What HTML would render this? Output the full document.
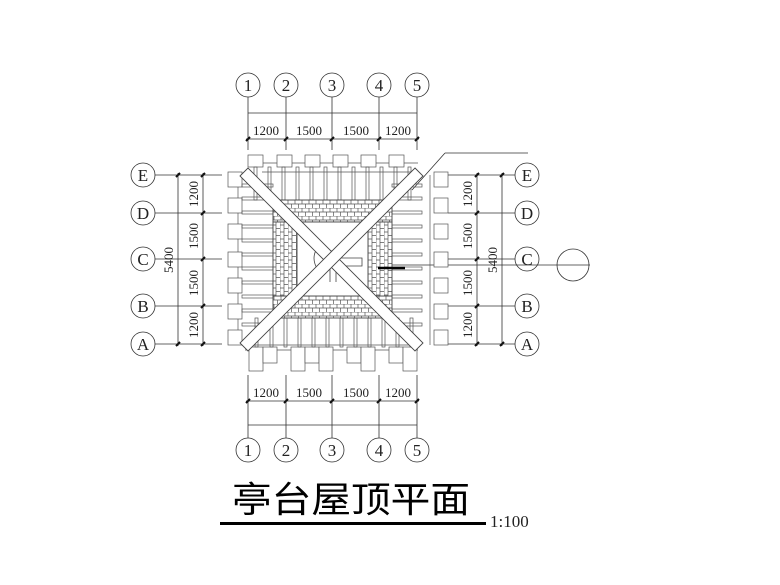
<!DOCTYPE html>
<html><head><meta charset="utf-8"><style>
html,body{margin:0;padding:0;background:#fff;}
svg{display:block}
text{font-family:"Liberation Serif","Noto Serif CJK SC",serif;fill:#222}
</style></head><body>
<svg width="780" height="585" viewBox="0 0 780 585" xmlns="http://www.w3.org/2000/svg">
<defs>
<pattern id="brickH" width="7" height="8" patternUnits="userSpaceOnUse">
<rect width="7" height="8" fill="#fff"/>
<path d="M0 0H7M0 4H7M1 0V4M4.5 4V8" stroke="#555" stroke-width="0.7" fill="none"/>
</pattern>
<pattern id="brickV" width="8" height="7" patternUnits="userSpaceOnUse">
<rect width="8" height="7" fill="#fff"/>
<path d="M0 0V7M4 0V7M0 1H4M4 4.5H8" stroke="#555" stroke-width="0.7" fill="none"/>
</pattern>
</defs>
<g stroke="#333" stroke-width="0.8" fill="none">
<g>
<circle cx="248" cy="85" r="12"/><circle cx="286" cy="85" r="12"/><circle cx="332" cy="85" r="12"/><circle cx="379" cy="85" r="12"/><circle cx="417" cy="85" r="12"/>
<path d="M248 97V150M286 97V150M332 97V150M379 97V150M417 97V150"/>
<path d="M248 113H417M246 139H419"/>
</g>
<g>
<circle cx="248" cy="450" r="12"/><circle cx="286" cy="450" r="12"/><circle cx="332" cy="450" r="12"/><circle cx="379" cy="450" r="12"/><circle cx="417" cy="450" r="12"/>
<path d="M248 375V438M286 375V438M332 375V438M379 375V438M417 375V438"/>
<path d="M248 425H417M246 401H419"/>
</g>
<g>
<circle cx="143" cy="175" r="12"/><circle cx="143" cy="213" r="12"/><circle cx="143" cy="259" r="12"/><circle cx="143" cy="306" r="12"/><circle cx="143" cy="344" r="12"/>
<path d="M155 175H222M155 213H222M155 259H222M155 306H222M155 344H222"/>
<path d="M178 173V346M203 173V346"/>
</g>
<g>
<circle cx="527" cy="175" r="12"/><circle cx="527" cy="213" r="12"/><circle cx="527" cy="259" r="12"/><circle cx="527" cy="306" r="12"/><circle cx="527" cy="344" r="12"/>
<path d="M448 175H515M448 213H515M448 259H515M448 306H515M448 344H515"/>
<path d="M477 173V346M502 173V346"/>
<circle cx="573" cy="265" r="16"/>
<path d="M380 265H590"/>
<path d="M445 153H528M445 153L412 190"/>
</g>
</g>
<g stroke="#111" stroke-width="2">
<path d="M246 141l4-4M284 141l4-4M330 141l4-4M377 141l4-4M415 141l4-4"/>
<path d="M246 403l4-4M284 403l4-4M330 403l4-4M377 403l4-4M415 403l4-4"/>
<path d="M176 177l4-4M176 346l4-4M201 177l4-4M201 215l4-4M201 261l4-4M201 308l4-4M201 346l4-4"/>
<path d="M475 177l4-4M475 215l4-4M475 261l4-4M475 308l4-4M475 346l4-4M500 177l4-4M500 346l4-4"/>
</g>
<g stroke="#555" stroke-width="0.7" fill="#fff">
<path d="M262 163H418M262 172H418" fill="none"/>
<rect x="248" y="155" width="15" height="12"/><rect x="277" y="155" width="15" height="12"/><rect x="305" y="155" width="15" height="12"/><rect x="333" y="155" width="15" height="12"/><rect x="361" y="155" width="15" height="12"/><rect x="389" y="155" width="15" height="12"/>
<g fill="none">
<rect x="254" y="167" width="3" height="33"/><rect x="282" y="167" width="3" height="33"/><rect x="310" y="167" width="3" height="33"/><rect x="338" y="167" width="3" height="33"/><rect x="366" y="167" width="3" height="33"/><rect x="394" y="167" width="3" height="33"/>
<rect x="268" y="167" width="3" height="33"/><rect x="296" y="167" width="3" height="33"/><rect x="324" y="167" width="3" height="33"/><rect x="352" y="167" width="3" height="33"/><rect x="380" y="167" width="3" height="33"/><rect x="408" y="167" width="3" height="33"/>
</g>
<path d="M245 345H418M245 350H418" fill="none"/>
<rect x="249" y="347" width="14" height="24"/><rect x="263" y="347" width="14" height="16"/><rect x="291" y="347" width="14" height="24"/><rect x="305" y="347" width="14" height="16"/><rect x="319" y="347" width="14" height="24"/><rect x="347" y="347" width="14" height="16"/><rect x="361" y="347" width="14" height="24"/><rect x="389" y="347" width="14" height="16"/><rect x="403" y="347" width="14" height="24"/>
<g fill="none">
<rect x="255" y="318" width="3" height="29"/><rect x="270" y="318" width="3" height="29"/><rect x="284" y="318" width="3" height="29"/><rect x="298" y="318" width="3" height="29"/><rect x="312" y="318" width="3" height="29"/><rect x="326" y="318" width="3" height="29"/><rect x="340" y="318" width="3" height="29"/><rect x="354" y="318" width="3" height="29"/><rect x="368" y="318" width="3" height="29"/><rect x="382" y="318" width="3" height="29"/><rect x="396" y="318" width="3" height="29"/><rect x="410" y="318" width="3" height="29"/>
</g>
<path d="M238 175V345" fill="none"/>
<rect x="228" y="172" width="14" height="15"/><rect x="228" y="198" width="14" height="15"/><rect x="228" y="224" width="14" height="15"/><rect x="228" y="252" width="14" height="15"/><rect x="228" y="278" width="14" height="15"/><rect x="228" y="304" width="14" height="15"/><rect x="228" y="330" width="14" height="15"/>
<g fill="none">
<rect x="242" y="184" width="31" height="3"/><rect x="242" y="197" width="31" height="3"/><rect x="242" y="211" width="31" height="3"/><rect x="242" y="225" width="31" height="3"/><rect x="242" y="239" width="31" height="3"/><rect x="242" y="253" width="31" height="3"/><rect x="242" y="267" width="31" height="3"/><rect x="242" y="281" width="31" height="3"/><rect x="242" y="295" width="31" height="3"/><rect x="242" y="309" width="31" height="3"/><rect x="242" y="323" width="31" height="3"/>
</g>
<path d="M430 175V345" fill="none"/>
<rect x="434" y="172" width="14" height="15"/><rect x="434" y="198" width="14" height="15"/><rect x="434" y="224" width="14" height="15"/><rect x="434" y="252" width="14" height="15"/><rect x="434" y="278" width="14" height="15"/><rect x="434" y="304" width="14" height="15"/><rect x="434" y="330" width="14" height="15"/>
<g fill="none">
<rect x="392" y="184" width="30" height="3"/><rect x="392" y="197" width="30" height="3"/><rect x="392" y="211" width="30" height="3"/><rect x="392" y="225" width="30" height="3"/><rect x="392" y="239" width="30" height="3"/><rect x="392" y="253" width="30" height="3"/><rect x="392" y="267" width="30" height="3"/><rect x="392" y="281" width="30" height="3"/><rect x="392" y="295" width="30" height="3"/><rect x="392" y="309" width="30" height="3"/><rect x="392" y="323" width="30" height="3"/>
</g>
</g>
<g stroke="#444" stroke-width="0.9">
<rect x="273" y="200" width="119" height="22" fill="url(#brickH)"/>
<rect x="273" y="296" width="119" height="22" fill="url(#brickH)"/>
<rect x="273" y="222" width="24" height="74" fill="url(#brickV)"/>
<rect x="368" y="222" width="24" height="74" fill="url(#brickV)"/>
<rect x="297" y="222" width="71" height="74" fill="#fff"/>
</g>
<g stroke="#444" stroke-width="0.8" fill="none">
<rect x="326" y="251" width="13" height="14" fill="#fff"/>
<path d="M318 247Q310 258 318 270M326 251L318 247M326 265L318 270"/>
<path d="M339 258H362V266H339M330 265V282M336 265V282M344 240V251"/>
</g>
<g stroke="#444" stroke-width="0.9" fill="#fff">
<polygon points="240,176 248,168 423,343 415,351"/>
<polygon points="415,168 423,176 248,351 240,343"/>
</g>
<path d="M378 268H405" stroke="#000" stroke-width="2.5"/>
<g font-size="17" text-anchor="middle">
<text x="248" y="91">1</text><text x="286" y="91">2</text><text x="332" y="91">3</text><text x="379" y="91">4</text><text x="417" y="91">5</text>
<text x="248" y="456">1</text><text x="286" y="456">2</text><text x="332" y="456">3</text><text x="379" y="456">4</text><text x="417" y="456">5</text>
<text x="143" y="181">E</text><text x="143" y="219">D</text><text x="143" y="265">C</text><text x="143" y="312">B</text><text x="143" y="350">A</text>
<text x="527" y="181">E</text><text x="527" y="219">D</text><text x="527" y="265">C</text><text x="527" y="312">B</text><text x="527" y="350">A</text>
</g>
<g font-size="13" text-anchor="middle">
<text x="266" y="135">1200</text><text x="309" y="135">1500</text><text x="356" y="135">1500</text><text x="398" y="135">1200</text>
<text x="266" y="397">1200</text><text x="309" y="397">1500</text><text x="356" y="397">1500</text><text x="398" y="397">1200</text>
<text transform="translate(198,194) rotate(-90)">1200</text>
<text transform="translate(198,236) rotate(-90)">1500</text>
<text transform="translate(198,283) rotate(-90)">1500</text>
<text transform="translate(198,325) rotate(-90)">1200</text>
<text transform="translate(173,260) rotate(-90)">5400</text>
<text transform="translate(472,194) rotate(-90)">1200</text>
<text transform="translate(472,236) rotate(-90)">1500</text>
<text transform="translate(472,283) rotate(-90)">1500</text>
<text transform="translate(472,325) rotate(-90)">1200</text>
<text transform="translate(497,260) rotate(-90)">5400</text>
</g>
<text x="232" y="512" font-size="36" style="font-family:'Liberation Sans','Noto Sans CJK SC',sans-serif;fill:#000" textLength="238" lengthAdjust="spacingAndGlyphs">亭台屋顶平面</text>
<rect x="220" y="522" width="266" height="3" fill="#000"/>
<text x="490" y="527" font-size="17">1:100</text>
</svg>
</body></html>
